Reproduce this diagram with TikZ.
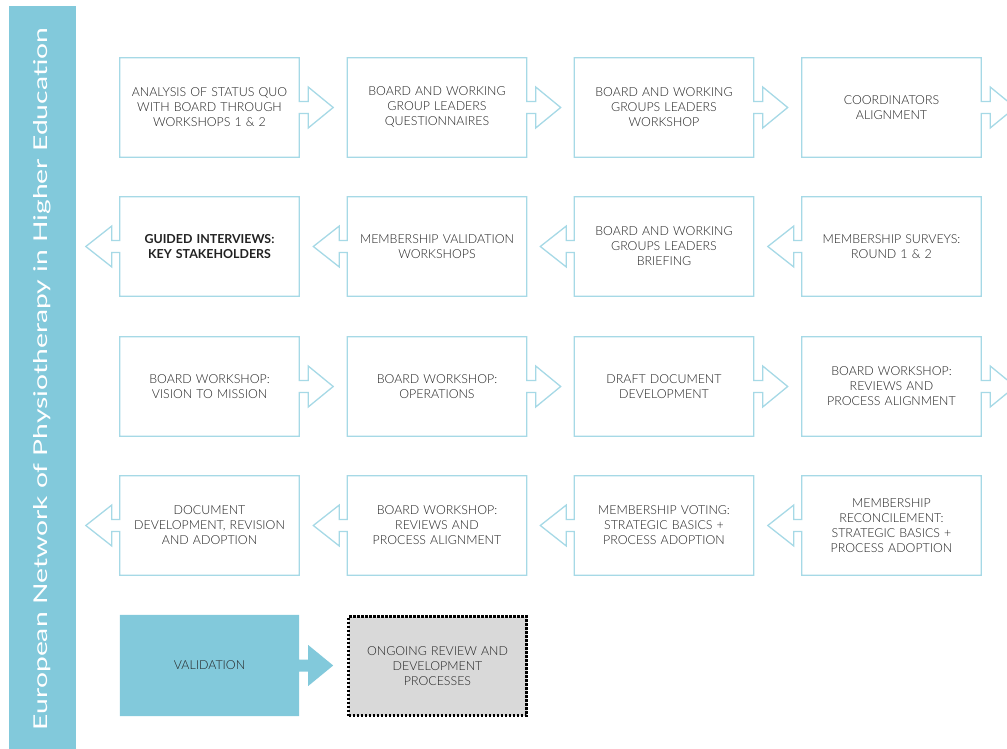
\documentclass[tikz,border=0pt]{standalone}
\usepackage{fontspec}
\setmainfont{Lato}[UprightFont=* Light, BoldFont=* Bold]
\newfontfamily\titlefont{Lato}
\usetikzlibrary{calc}
\definecolor{boxline}{HTML}{A6D9E6}
\definecolor{barfill}{HTML}{82C9DB}
\definecolor{txt}{HTML}{222222}
\definecolor{ongoing}{HTML}{D9D9D9}
\tikzset{
  stepnode/.style={minimum width=179pt, minimum height=99pt, inner sep=0pt, text width=172pt, align=center, text=txt, font=\fontsize{12.4}{15}\selectfont},
  outline/.style={draw=boxline, line width=1.3pt, line join=miter, fill=white},
}
\newcommand{\boxR}[1]{%
  \draw[outline] (#1.north west) -- (#1.north east) -- ([yshift=6pt]#1.east) -- ++(9pt,0) -- ++(0,14.5pt)
   -- ([xshift=34pt]#1.east) -- ([shift={(9pt,-20.5pt)}]#1.east) -- ++(0,14.5pt) -- ([yshift=-6pt]#1.east)
   -- (#1.south east) -- (#1.south west) -- cycle;}
\newcommand{\boxL}[1]{%
  \draw[outline] (#1.north east) -- (#1.north west) -- ([yshift=6pt]#1.west) -- ++(-8pt,0) -- ++(0,14.5pt)
   -- ([xshift=-34pt]#1.west) -- ([shift={(-8pt,-20.5pt)}]#1.west) -- ++(0,14.5pt) -- ([yshift=-6pt]#1.west)
   -- (#1.south west) -- (#1.south east) -- cycle;}
\begin{document}
\begin{tikzpicture}[x=1pt,y=-1pt]
\useasboundingbox (0,0) rectangle (1007,749);
\clip (0,0) rectangle (1007,749);
% side bar
\fill[barfill] (9,6) rectangle (76,749);
\node[rotate=90, text=white, inner sep=0pt, font=\titlefont\fontsize{19}{19}\selectfont] (title) at (42,379)
  {\resizebox{702pt}{\height}{European Network of Physiotherapy in Higher Education}};
% row 1
\node[stepnode] (a1) at (209.5,107.5) {};
\node[stepnode] (a2) at (437,107.5) {};
\node[stepnode] (a3) at (664,107.5) {};
\node[stepnode] (a4) at (891.5,107.5) {};
% row 2
\node[stepnode] (b1) at (209.5,246.5) {};
\node[stepnode] (b2) at (437,246.5) {};
\node[stepnode] (b3) at (664,246.5) {};
\node[stepnode] (b4) at (891.5,246.5) {};
% row 3
\node[stepnode] (c1) at (209.5,386.5) {};
\node[stepnode] (c2) at (437,386.5) {};
\node[stepnode] (c3) at (664,386.5) {};
\node[stepnode] (c4) at (891.5,386.5) {};
% row 4
\node[stepnode] (d1) at (209.5,525.5) {};
\node[stepnode] (d2) at (437,525.5) {};
\node[stepnode] (d3) at (664,525.5) {};
\node[stepnode] (d4) at (891.5,525.5) {};
\foreach \n in {a1,a2,a3,a4,c1,c2,c3,c4} {\boxR{\n}}
\foreach \n in {b1,b2,b3,b4,d1,d2,d3,d4} {\boxL{\n}}
% texts
\node[stepnode] at (a1) {ANALYSIS OF STATUS QUO\\WITH BOARD THROUGH\\WORKSHOPS 1 \& 2};
\node[stepnode] at (a2) {BOARD AND WORKING\\GROUP LEADERS\\QUESTIONNAIRES};
\node[stepnode] at (a3) {BOARD AND WORKING\\GROUPS LEADERS\\WORKSHOP};
\node[stepnode] at (a4) {COORDINATORS\\ALIGNMENT};
\node[stepnode, font=\fontsize{12.4}{15}\selectfont\bfseries] at (b1) {GUIDED INTERVIEWS:\\KEY STAKEHOLDERS};
\node[stepnode] at (b2) {MEMBERSHIP VALIDATION\\WORKSHOPS};
\node[stepnode] at (b3) {BOARD AND WORKING\\GROUPS LEADERS\\BRIEFING};
\node[stepnode] at (b4) {MEMBERSHIP SURVEYS:\\ROUND 1 \& 2};
\node[stepnode] at (c1) {BOARD WORKSHOP:\\VISION TO MISSION};
\node[stepnode] at (c2) {BOARD WORKSHOP:\\OPERATIONS};
\node[stepnode] at (c3) {DRAFT DOCUMENT\\DEVELOPMENT};
\node[stepnode] at (c4) {BOARD WORKSHOP:\\REVIEWS AND\\PROCESS ALIGNMENT};
\node[stepnode] at (d1) {DOCUMENT\\DEVELOPMENT, REVISION\\AND ADOPTION};
\node[stepnode] at (d2) {BOARD WORKSHOP:\\REVIEWS AND\\PROCESS ALIGNMENT};
\node[stepnode] at (d3) {MEMBERSHIP VOTING:\\STRATEGIC BASICS +\\PROCESS ADOPTION};
\node[stepnode] at (d4) {MEMBERSHIP\\RECONCILEMENT:\\STRATEGIC BASICS +\\PROCESS ADOPTION};
% row 5
\node[stepnode, minimum height=101pt] (e1) at (209.5,665.5) {};
\fill[barfill] (e1.north west) -- (e1.north east) -- ([yshift=6pt]e1.east) -- ++(9pt,0) -- ++(0,14.5pt)
   -- ([xshift=34pt]e1.east) -- ([shift={(9pt,-20.5pt)}]e1.east) -- ++(0,14.5pt) -- ([yshift=-6pt]e1.east)
   -- (e1.south east) -- (e1.south west) -- cycle;
\node[stepnode] at (e1) {VALIDATION};
\node[stepnode, minimum width=178pt, minimum height=99pt, fill=ongoing, draw=black, line width=2.4pt, dash pattern=on 2.2pt off 1.8pt] (e2) at (437.5,666) {ONGOING REVIEW AND\\DEVELOPMENT\\PROCESSES};
\end{tikzpicture}
\end{document}
